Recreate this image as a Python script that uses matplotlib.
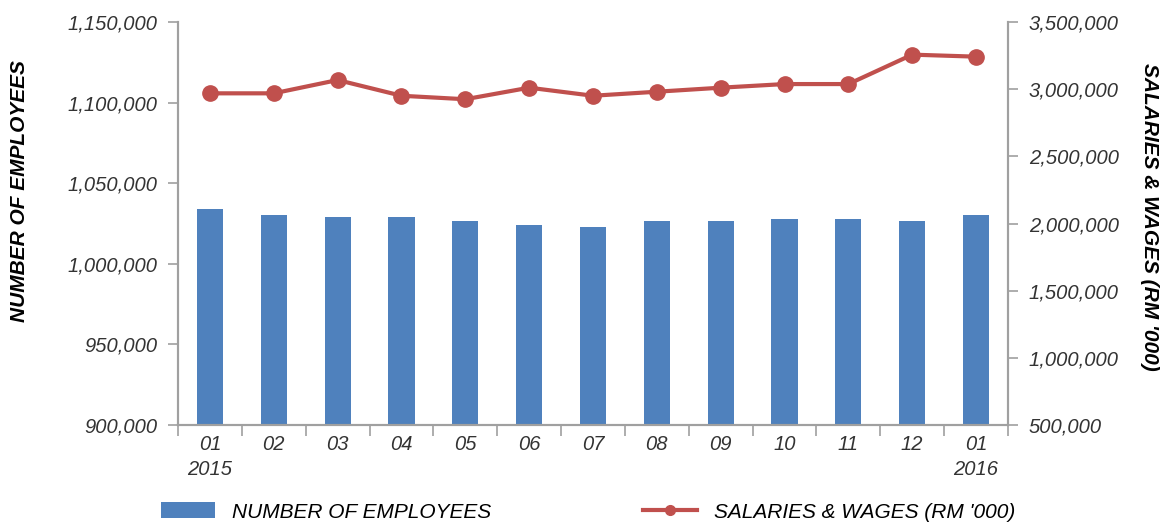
import numpy as np
import matplotlib.pyplot as plt
from matplotlib.ticker import FuncFormatter
from matplotlib.lines import Line2D

# monthly data, Jan 2015 - Jan 2016
months = ["01\n2015", "02", "03", "04", "05", "06", "07", "08", "09", "10", "11", "12", "01\n2016"]
employees = [1033800, 1030300, 1029200, 1029200, 1026600, 1024300, 1023000,
             1026600, 1026600, 1027800, 1027800, 1026600, 1030300]
salaries = [2969000, 2969000, 3068000, 2951000, 2925000, 3011000, 2951000,
            2981000, 3011000, 3038000, 3038000, 3257000, 3242000]

plt.rcParams['font.family'] = ['Liberation Sans', 'DejaVu Sans']
text_col = '#333333'
spine_col = '#a0a0a0'
fs = 14.5

fig = plt.figure(figsize=(11.6, 5.25), dpi=100)
ax = fig.add_axes([178 / 1160, 1 - 425 / 525, (1008 - 178) / 1160, (425 - 22) / 525])
ax2 = ax.twinx()

x = np.arange(len(months))
bars = ax.bar(x, employees, width=0.41, color='#4F81BD', zorder=2,
              label='NUMBER OF EMPLOYEES')
line, = ax2.plot(x, salaries, color='#C0504D', lw=3, marker='o', ms=11,
                 label="SALARIES & WAGES (RM '000)")

ax.set_xlim(-0.5, len(months) - 0.5)
ax.set_ylim(900000, 1150000)
ax.set_yticks(np.arange(900000, 1150001, 50000))
ax2.set_ylim(500000, 3500000)
ax2.set_yticks(np.arange(500000, 3500001, 500000))

fmt = FuncFormatter(lambda v, p: f"{int(v):,}")
ax.yaxis.set_major_formatter(fmt)
ax2.yaxis.set_major_formatter(fmt)

# ticks at category boundaries, labels at centres
ax.set_xticks(np.arange(-0.5, len(months), 1.0))
ax.set_xticklabels([])
ax.set_xticks(x, minor=True)
ax.set_xticklabels(months, minor=True, linespacing=1.4)
ax.tick_params(axis='x', which='major', length=8, color=spine_col, width=1.2, direction='out')
ax.tick_params(axis='x', which='minor', length=0, pad=7, labelsize=fs, labelcolor=text_col)

for a in (ax, ax2):
    for s in a.spines.values():
        s.set_color(spine_col)
        s.set_linewidth(1.5)
    a.spines['top'].set_visible(False)
    a.tick_params(axis='y', length=7, color=spine_col, width=1.2, pad=8,
                  labelsize=fs, labelcolor=text_col)
    for lab in a.get_xticklabels(minor=True) + a.get_yticklabels():
        lab.set_fontstyle('italic')

fig.text(20 / 1160, 1 - 191 / 525, 'NUMBER OF EMPLOYEES', rotation=90,
         ha='center', va='center', fontsize=fs + 0.5, fontweight='bold',
         fontstyle='italic', color='black')
fig.text(1149 / 1160, 1 - 217 / 525, "SALARIES & WAGES (RM '000)", rotation=-90,
         ha='center', va='center', fontsize=fs + 0.5, fontweight='bold',
         fontstyle='italic', color='black')

line_handle = Line2D([], [], color='#C0504D', lw=3, marker='o', ms=7)
leg = fig.legend(handles=[bars, line_handle],
                 labels=['NUMBER OF EMPLOYEES', "SALARIES & WAGES (RM '000)"],
                 loc='center', bbox_to_anchor=(588 / 1160, 1 - 512 / 525),
                 ncol=2, frameon=False, fontsize=15, handlelength=2.6, handleheight=0.8,
                 handletextpad=0.8, columnspacing=7.3)
for t in leg.get_texts():
    t.set_fontstyle('italic')
    t.set_color('black')

fig.savefig('out.png', dpi=100)
